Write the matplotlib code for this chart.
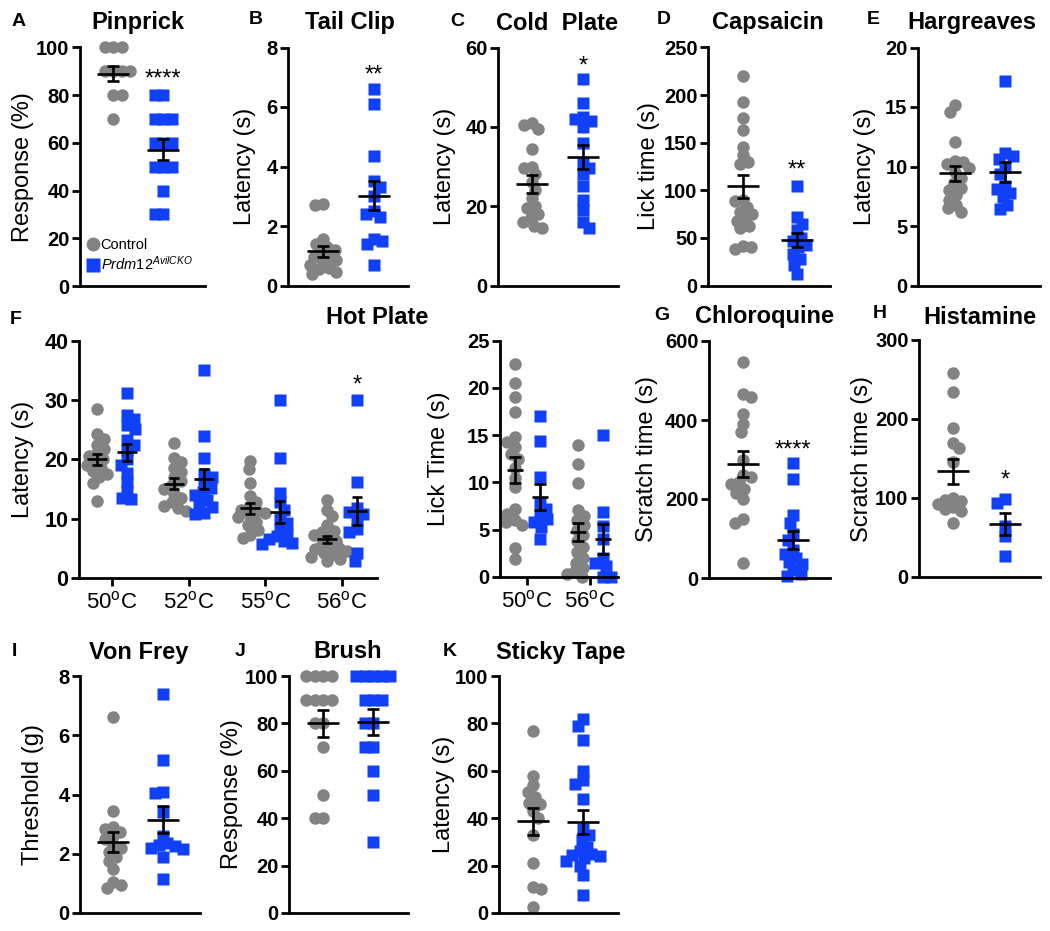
import numpy as np
import matplotlib
matplotlib.use('Agg')
import matplotlib.pyplot as plt
from matplotlib.lines import Line2D

plt.rcParams['font.family'] = ['Liberation Sans', 'DejaVu Sans']
plt.rcParams['mathtext.fontset'] = 'custom'
plt.rcParams['mathtext.rm'] = 'Liberation Sans'
plt.rcParams['mathtext.it'] = 'Liberation Sans:italic'
plt.rcParams['mathtext.bf'] = 'Liberation Sans:bold'

# ---------------- data ----------------
pinprick_control = [100, 100, 100, 90, 90, 90, 90, 80, 80, 70]
pinprick_cko = [80, 80, 70, 70, 70, 60, 60, 60, 50, 50, 50, 40, 30, 30]

tailclip_control = [2.75, 2.7, 1.55, 1.4, 1.3, 1.2, 1.1, 1.0, 0.95, 0.85, 0.8, 0.7, 0.6, 0.55, 0.45, 0.4]
tailclip_cko = [6.6, 6.1, 4.35, 3.5, 3.3, 3.0, 2.5, 2.4, 2.3, 1.55, 1.5, 1.4, 0.7]

coldplate_control = [41, 40.5, 39.5, 34.5, 30, 29.5, 28, 26, 24, 22, 20, 19.5, 18, 17, 16, 15, 14.5]
coldplate_cko = [52, 46, 42.5, 42, 41.5, 40, 36, 31, 29.5, 28, 25, 21.5, 19, 16, 14.5]

capsaicin_control = [220, 193, 176, 163, 146, 137, 130, 128, 90, 89, 82, 77, 75, 70, 68, 62, 60, 41, 40, 38]
capsaicin_cko = [105, 72, 65, 58, 50, 47, 43, 40, 33, 28, 22, 12]

hargreaves_control = [15.2, 14.6, 12.1, 10.5, 10.4, 10.2, 9.9, 9.5, 9.0, 8.6, 8.2, 8.0, 7.6, 7.2, 6.8, 6.5, 6.2]
hargreaves_cko = [17.2, 11.1, 10.9, 10.6, 10.0, 9.4, 8.4, 8.1, 7.8, 7.4, 6.8, 6.4]

hotplate_temps = ['50', '52', '55', '56']
hotplate_latency_control = [
    [28.5, 24.2, 23.5, 22.5, 21.8, 21.0, 20.5, 20.0, 19.5, 19.0, 18.5, 18.0, 17.5, 17.0, 16.0, 13.0],
    [22.8, 20.2, 19.5, 18.5, 17.8, 17.0, 16.3, 15.6, 15.0, 14.2, 13.5, 12.8, 12.2, 11.8, 11.3],
    [19.7, 18.3, 16.0, 13.8, 12.8, 12.0, 11.5, 11.3, 11.0, 10.5, 10.2, 9.5, 9.0, 8.1, 7.3, 6.7],
    [13.2, 11.5, 10.4, 8.9, 8.0, 7.8, 7.2, 6.8, 6.3, 5.8, 5.3, 5.0, 4.9, 4.5, 4.2, 4.0, 3.6, 3.2, 2.8],
]
hotplate_latency_cko = [
    [31.2, 27.5, 26.8, 25.8, 25.2, 23.2, 22.5, 21.5, 20.0, 19.0, 17.7, 16.2, 14.6, 13.5, 13.3],
    [35.0, 24.0, 20.3, 17.5, 17.0, 16.0, 15.2, 14.5, 14.0, 13.2, 12.5, 12.0, 11.0, 10.8],
    [30.0, 20.2, 14.3, 12.8, 11.5, 10.0, 9.2, 8.3, 7.5, 7.0, 6.6, 6.2, 5.9, 5.8],
    [30.0, 16.1, 11.8, 11.2, 10.8, 9.8, 8.2, 7.8, 4.2, 2.8],
]
hotplate_lick_temps = ['50', '56']
hotplate_lick_control = [
    [22.5, 20.5, 19.0, 17.5, 14.8, 14.3, 13.8, 13.0, 12.5, 11.5, 10.5, 9.5, 7.2, 6.7, 6.0, 5.8, 5.5, 3.1, 1.9],
    [14.0, 12.0, 9.9, 7.1, 6.5, 6.0, 5.5, 5.0, 4.4, 3.8, 3.2, 2.6, 2.0, 1.5, 1.0, 0.6, 0.3, 0.0],
]
hotplate_lick_cko = [
    [17.0, 14.4, 10.6, 7.8, 7.2, 6.5, 6.1, 5.8, 5.3, 4.0],
    [15.0, 6.9, 5.4, 4.0, 2.0, 1.5, 1.2, 0.0, 0.0],
]

chloroquine_control = [548, 467, 458, 416, 391, 370, 300, 262, 255, 243, 238, 225, 215, 200, 150, 140, 37]
chloroquine_cko = [290, 250, 160, 140, 112, 95, 70, 62, 50, 40, 35, 20, 10, 5]

histamine_control = [258, 234, 188, 170, 163, 145, 100, 98, 96, 92, 88, 86, 84, 68]
histamine_cko = [99, 94, 64, 52, 26]

vonfrey_control = [6.6, 3.45, 2.9, 2.85, 2.75, 2.6, 2.5, 2.3, 2.2, 2.05, 1.9, 1.75, 1.5, 1.05, 0.95, 0.85]
vonfrey_cko = [7.4, 5.15, 4.1, 4.05, 3.4, 2.6, 2.35, 2.3, 2.25, 2.2, 2.15, 1.9, 1.15]

brush_control = [100, 100, 100, 100, 90, 90, 90, 90, 80, 80, 70, 50, 40, 40]
brush_cko = [100, 100, 100, 100, 100, 90, 90, 90, 80, 80, 70, 70, 60, 50, 30]

stickytape_control = [77, 58, 54, 51, 49, 46.5, 46, 43, 40, 33, 21, 11, 10, 2.5]
stickytape_cko = [82, 79, 73, 60, 56, 54.5, 48, 35.5, 33, 31, 28, 26, 25, 24.5, 24, 23, 22, 20, 16, 7.5]

group_labels = ['Control', r'$\mathit{Prdm12}^{\mathit{AvilCKO}}$']

# ---------------- style ----------------
GRAY = '#838383'
BLUE = '#1040f8'
W, H = 1050, 931
MS = 9.0
SEP = 8.5
LW = 1.9
TITLE_FS = 17
LABEL_FS = 17
STAR_FS = 17
TICK_FS = 14.5
LETTER_FS = 14

fig = plt.figure(figsize=(W / 100, H / 100), dpi=100)


def add_ax(l, t, r, b):
    return fig.add_axes([l / W, 1 - b / H, (r - l) / W, (b - t) / H])


def ftext(x, y, s, **kw):
    fig.text(x / W, 1 - y / H, s, **kw)


def beeswarm(vals, sx, sy, d):
    vals = np.asarray(vals, float)
    ypx = vals * sy
    order = np.argsort(-vals, kind='stable')
    xs = np.zeros(len(vals))
    placed = []
    for k, i in enumerate(order):
        y = ypx[i]
        neigh = [(xs[j], ypx[j]) for j in placed if abs(ypx[j] - y) < d - 1e-9]
        cands = [0.0]
        for px, py in neigh:
            dx = np.sqrt(d * d - (py - y) ** 2)
            cands += [px + dx, px - dx]
        sign = 1 if k % 2 == 0 else -1
        cands = sorted(cands, key=lambda c: (round(abs(c), 6), -sign * c))
        for c in cands:
            if all((c - px) ** 2 + (y - py) ** 2 >= d * d - 1e-6 for px, py in neigh):
                xs[i] = c
                break
        placed.append(i)
    return xs / sx


def draw_group(ax, x0, vals, color, marker, sx, sy, mean_hw, cap_hw):
    off = beeswarm(vals, sx, sy, SEP)
    vals = np.asarray(vals, float)
    ms = MS if marker == 'o' else MS * 0.95
    ax.plot(x0 + off, vals, ls='none', marker=marker, ms=ms, mfc=color,
            mec='none', clip_on=False, zorder=2)
    m = vals.mean()
    s = vals.std(ddof=1) / np.sqrt(len(vals))
    mh, ch = mean_hw / sx, cap_hw / sx
    kw = dict(color='black', lw=LW, zorder=3, solid_capstyle='butt', clip_on=False)
    ax.plot([x0 - mh, x0 + mh], [m, m], **kw)
    ax.plot([x0, x0], [m - s, m + s], **kw)
    ax.plot([x0 - ch, x0 + ch], [m + s, m + s], **kw)
    ax.plot([x0 - ch, x0 + ch], [m - s, m - s], **kw)


def style_axes(ax, ymax, step, fs):
    for sp in ('top', 'right'):
        ax.spines[sp].set_visible(False)
    for sp in ('left', 'bottom'):
        ax.spines[sp].set_linewidth(2.0)
    ax.set_ylim(0, ymax)
    ticks = np.arange(0, ymax + step / 2, step)
    ax.set_yticks(ticks, labels=[f'{t:g}' for t in ticks], fontsize=fs, fontweight='bold')
    ax.tick_params(axis='y', length=5.5, width=2.0, pad=2, direction='out')
    ax.patch.set_alpha(0)


def star(ax, x, y, s):
    ax.annotate(s, xy=(x, y), xycoords='data', xytext=(0, -0.57 * STAR_FS),
                textcoords='offset points', ha='center', va='baseline',
                fontsize=STAR_FS, annotation_clip=False)


# ---------------- two-group panels ----------------
panels = [
    dict(l=80, t=47.5, r=205, b=286, c0=113, c1=163, ymax=100, step=20,
         ctrl=pinprick_control, ko=pinprick_cko, title='Pinprick', tx=138, ty=23,
         let='A', lx=19, ly=21, ylabel='Response (%)', ylx=23, star='****', sy=89.8),
    dict(l=288, t=47.5, r=408, b=285.5, c0=323, c1=374, ymax=8, step=2,
         ctrl=tailclip_control, ko=tailclip_cko, title='Tail Clip', tx=350, ty=23,
         let='B', lx=256, ly=20, ylabel='Latency (s)', ylx=245, star='**', sy=7.3),
    dict(l=498, t=47.5, r=618, b=285.5, c0=532, c1=583, ymax=60, step=20,
         ctrl=coldplate_control, ko=coldplate_cko, title='Cold  Plate', tx=557, ty=23,
         let='C', lx=457, ly=21, ylabel='Latency (s)', ylx=445, star='*', sy=57),
    dict(l=708, t=47.5, r=830, b=285.5, c0=743, c1=797, ymax=250, step=50,
         ctrl=capsaicin_control, ko=capsaicin_cko, title='Capsaicin', tx=768, ty=23,
         let='D', lx=664, ly=20, ylabel='Lick time (s)', ylx=649, star='**', sy=128.7),
    dict(l=918, t=47.5, r=1040, b=285.5, c0=955, c1=1005, ymax=20, step=5,
         ctrl=hargreaves_control, ko=hargreaves_cko, title='Hargreaves', tx=972, ty=23,
         let='E', lx=873, ly=20, ylabel='Latency (s)', ylx=865, star=None, sy=0),
    dict(l=709, t=341, r=830, b=578, c0=743, c1=793, ymax=600, step=200,
         ctrl=chloroquine_control, ko=chloroquine_cko, title='Chloroquine', tx=764, ty=317,
         let='G', lx=662, ly=316, ylabel='Scratch time (s)', ylx=647, star='****', sy=342),
    dict(l=919, t=340, r=1040, b=577, c0=953, c1=1005, ymax=300, step=100,
         ctrl=histamine_control, ko=histamine_cko, title='Histamine', tx=980, ty=317,
         let='H', lx=880, ly=314, ylabel='Scratch time (s)', ylx=862, star='*', sy=131.6),
    dict(l=80, t=676, r=200, b=913, c0=113, c1=163, ymax=8, step=2,
         ctrl=vonfrey_control, ko=vonfrey_cko, title='Von Frey', tx=139, ty=653,
         let='I', lx=14, ly=651, ylabel='Threshold (g)', ylx=33, star=None, sy=0),
    dict(l=289, t=676, r=408, b=913, c0=323, c1=373, ymax=100, step=20,
         ctrl=brush_control, ko=brush_cko, title='Brush', tx=348, ty=652,
         let='J', lx=240, ly=652, ylabel='Response (%)', ylx=232, star=None, sy=0),
    dict(l=499, t=676, r=618, b=913, c0=533, c1=583, ymax=100, step=20,
         ctrl=stickytape_control, ko=stickytape_cko, title='Sticky Tape', tx=561, ty=652,
         let='K', lx=450, ly=651, ylabel='Latency (s)', ylx=444, star=None, sy=0),
]

for p in panels:
    ax = add_ax(p['l'], p['t'], p['r'], p['b'])
    style_axes(ax, p['ymax'], p['step'], TICK_FS)
    sx = p['c1'] - p['c0']
    sy = (p['b'] - p['t']) / p['ymax']
    ax.set_xlim((p['l'] - p['c0']) / sx, (p['r'] - p['c0']) / sx)
    ax.set_xticks([])
    draw_group(ax, 0, p['ctrl'], GRAY, 'o', sx, sy, 16, 6)
    draw_group(ax, 1, p['ko'], BLUE, 's', sx, sy, 16, 6)
    if p['star']:
        star(ax, 1, p['sy'], p['star'])
    ftext(p['tx'], p['ty'], p['title'], ha='center', va='center', fontsize=TITLE_FS, fontweight='bold')
    ftext(p['lx'], p['ly'], p['let'], ha='center', va='center', fontsize=LETTER_FS, fontweight='bold')
    ftext(p['ylx'], (p['t'] + p['b']) / 2, p['ylabel'], ha='center', va='center',
          rotation=90, fontsize=LABEL_FS)

# legend in panel A
handles = [Line2D([], [], ls='none', marker='o', ms=10, mfc=GRAY, mec='none'),
           Line2D([], [], ls='none', marker='s', ms=10, mfc=BLUE, mec='none')]
fig.legend(handles, group_labels, loc='upper left', bbox_to_anchor=(86 / W, 1 - 238 / H),
           frameon=False, fontsize=10.5, handlelength=0.9, handletextpad=0.1,
           labelspacing=0.2, borderpad=0, borderaxespad=0)

# ---------------- F: hot plate latency ----------------
l, t, r, b = 79, 340.7, 377, 578
axF = add_ax(l, t, r, b)
style_axes(axF, 40, 10, 15.5)
gx = [112, 189, 264, 342]
sxF = (gx[-1] - gx[0]) / 3
syF = (b - t) / 40
axF.set_xlim((l - gx[0]) / sxF, (r - gx[0]) / sxF)
pos = np.arange(len(hotplate_temps))
axF.set_xticks(pos, labels=[tt + r'$^{\mathrm{o}}$C' for tt in hotplate_temps], fontsize=16)
axF.tick_params(axis='x', length=5.5, width=2.0, pad=4, direction='out')
offF = 15 / sxF
for i in range(len(hotplate_temps)):
    draw_group(axF, pos[i] - offF, hotplate_latency_control[i], GRAY, 'o', sxF, syF, 10, 5)
    draw_group(axF, pos[i] + offF, hotplate_latency_cko[i], BLUE, 's', sxF, syF, 10, 5)
star(axF, pos[3] + offF, 33.7, '*')
ftext(16, 320, 'F', ha='center', va='center', fontsize=LETTER_FS, fontweight='bold')
ftext(377, 317, 'Hot Plate', ha='center', va='center', fontsize=TITLE_FS, fontweight='bold')
ftext(23, (t + b) / 2, 'Latency (s)', ha='center', va='center', rotation=90, fontsize=LABEL_FS)

# ---------------- F: hot plate lick time ----------------
l, t, r, b = 500, 340.7, 618, 577
axL = add_ax(l, t, r, b)
style_axes(axL, 25, 5, TICK_FS)
lx0, lx1 = 527, 590
sxL = lx1 - lx0
syL = (b - t) / 25
axL.set_xlim((l - lx0) / sxL, (r - lx0) / sxL)
posL = np.arange(len(hotplate_lick_temps))
axL.set_xticks(posL, labels=[tt + r'$^{\mathrm{o}}$C' for tt in hotplate_lick_temps], fontsize=16)
axL.tick_params(axis='x', length=5.5, width=2.0, pad=4, direction='out')
offL = 12.5 / sxL
for i in range(len(hotplate_lick_temps)):
    draw_group(axL, posL[i] - offL, hotplate_lick_control[i], GRAY, 'o', sxL, syL, 8, 6)
    draw_group(axL, posL[i] + offL, hotplate_lick_cko[i], BLUE, 's', sxL, syL, 8, 6)
ftext(439, (t + b) / 2, 'Lick Time (s)', ha='center', va='center', rotation=90, fontsize=LABEL_FS)

fig.savefig('out.png', dpi=100)
